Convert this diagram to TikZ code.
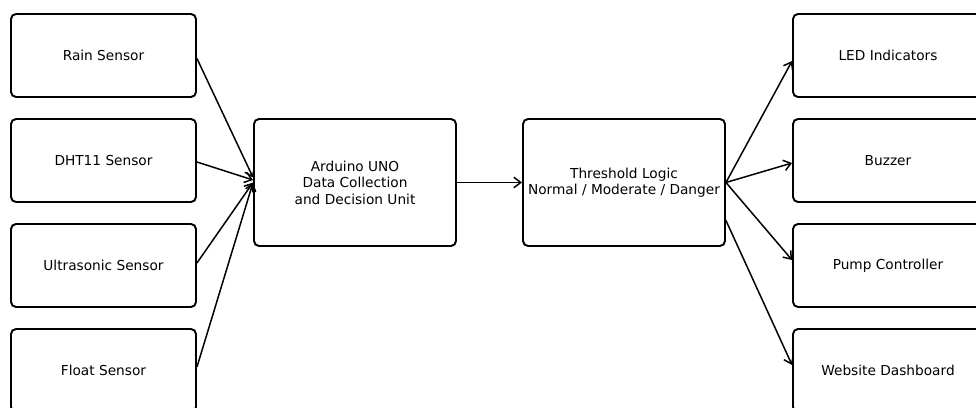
\documentclass[tikz,border=0pt]{standalone}
\usepackage{fontspec}
\setmainfont{DejaVu Sans}
\usetikzlibrary{arrows.meta}
\begin{document}
\begin{tikzpicture}[x=0.02cm, y=-0.02cm,
  blk/.style={draw, line width=1.1pt, rounded corners=0.1cm, align=center,
    minimum width=3.7cm, minimum height=1.66cm, inner sep=0pt,
    font=\fontsize{7.8}{9.4}\selectfont},
  unit/.style={blk, minimum width=4.04cm, minimum height=2.54cm},
  link/.style={-{Straight Barb[length=4pt, width=6pt]}, line width=0.85pt}]
\useasboundingbox (0, 0) rectangle (976, 408);
\node[blk] (rain) at (103.5, 55.5) {Rain Sensor};
\node[blk] (dht) at (103.5, 160.5) {DHT11 Sensor};
\node[blk] (ultra) at (103.5, 265.5) {Ultrasonic Sensor};
\node[blk] (float) at (103.5, 370.5) {Float Sensor};
\node[unit] (uno) at (355, 182.5) {Arduino UNO\\Data Collection\\and Decision Unit};
\node[unit] (logic) at (624, 182.5) {Threshold Logic\\Normal / Moderate / Danger};
\node[blk, minimum width=3.8cm] (led) at (888, 55.5) {LED Indicators};
\node[blk, minimum width=3.8cm] (buzz) at (888, 160.5) {Buzzer};
\node[blk, minimum width=3.8cm] (pump) at (888, 265.5) {Pump Controller};
\node[blk, minimum width=3.8cm] (web) at (888, 370.5) {Website Dashboard};
\draw[link] ([yshift=-0.06cm]rain.east) -- ([yshift=0.1cm]uno.west);
\draw[link] ([yshift=-0.03cm]dht.east) -- ([yshift=0.05cm]uno.west);
\draw[link] ([yshift=0.05cm]ultra.east) -- (uno.west);
\draw[link] ([yshift=0.07cm]float.east) -- (uno.west);
\draw[link] (uno) -- (logic);
\draw[link] (logic.east) -- ([yshift=-0.11cm]led.west);
\draw[link] (logic.east) -- ([yshift=-0.05cm]buzz.west);
\draw[link] (logic.east) -- ([yshift=0.11cm]pump.west);
\draw[link] ([yshift=-0.76cm]logic.east) -- ([yshift=0.11cm]web.west);
\end{tikzpicture}
\end{document}
